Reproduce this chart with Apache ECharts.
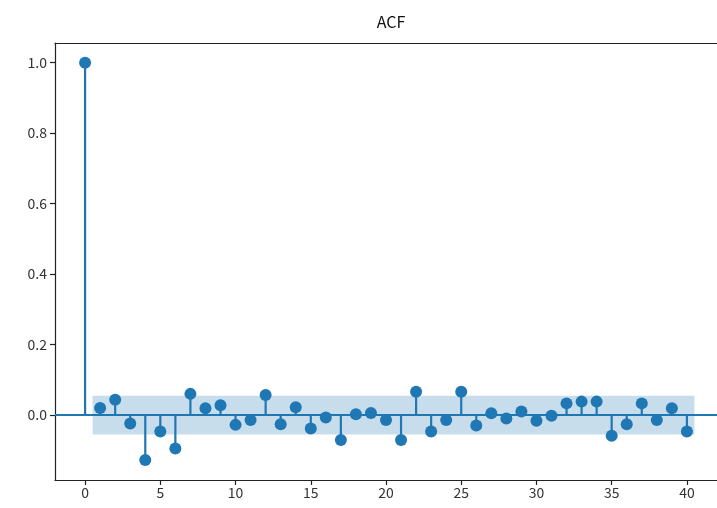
<!DOCTYPE html>
<html>
<head>
<meta charset="utf-8">
<script src="https://cdn.jsdelivr.net/npm/echarts@6/dist/echarts.min.js"></script>
<style>
  html, body { margin: 0; padding: 0; background: #fff; }
  #chart { width: 717px; height: 508px; }
</style>
</head>
<body>
<div id="chart"></div>
<script>
const lags = [0,1,2,3,4,5,6,7,8,9,10,11,12,13,14,15,16,17,18,19,20,21,22,23,24,25,26,27,28,29,30,31,32,33,34,35,36,37,38,39,40];
const acfValues = [1.0, 0.020, 0.043, -0.024, -0.128, -0.047, -0.095, 0.060, 0.019, 0.028,
  -0.028, -0.014, 0.057, -0.026, 0.022, -0.038, -0.007, -0.071, 0.002, 0.006,
  -0.014, -0.071, 0.066, -0.047, -0.014, 0.066, -0.030, 0.005, -0.010, 0.010,
  -0.016, -0.002, 0.033, 0.038, 0.038, -0.059, -0.026, 0.033, -0.014, 0.019, -0.047];
const confBand = [-0.055, 0.055];
const bandLagRange = [0.5, 40.5];
const xTicks = [0, 5, 10, 15, 20, 25, 30, 35, 40];
const yTicks = [0.0, 0.2, 0.4, 0.6, 0.8, 1.0];
const titleText = 'ACF';

const color = '#1f77b4';
const fontFamily = '"Noto Sans CJK SC", "DejaVu Sans", sans-serif';
const points = lags.map((l, i) => [l, acfValues[i]]);
const frameLine = { show: true, onZero: false, lineStyle: { color: '#222', width: 1.2 } };

const chart = echarts.init(document.getElementById('chart'), null, { renderer: 'canvas' });
chart.setOption({
  animation: false,
  backgroundColor: '#fff',
  title: {
    text: titleText,
    left: 386, top: 9, textAlign: 'center',
    textStyle: { fontFamily, fontSize: 16, fontWeight: 'normal', color: '#111' }
  },
  grid: { left: 55, top: 43, right: 0, bottom: 28, show: false },
  xAxis: [{
    type: 'value', min: -2, max: 42, position: 'bottom',
    splitLine: { show: false },
    axisLine: frameLine,
    axisTick: { show: true, length: 5, customValues: xTicks, lineStyle: { color: '#222', width: 1.2 } },
    axisLabel: { customValues: xTicks, fontFamily, fontSize: 14, color: '#333', margin: 6 }
  }, {
    type: 'value', min: -2, max: 42, position: 'top',
    splitLine: { show: false },
    axisLine: frameLine,
    axisTick: { show: false },
    axisLabel: { show: false }
  }],
  yAxis: {
    type: 'value', min: -0.1845, max: 1.056,
    splitLine: { show: false },
    axisLine: frameLine,
    axisTick: { show: true, length: 5, customValues: yTicks, lineStyle: { color: '#222', width: 1.2 } },
    axisLabel: { customValues: yTicks, fontFamily, fontSize: 14, color: '#333', margin: 8,
      formatter: v => v.toFixed(1) }
  },
  series: [
    {
      type: 'custom',
      name: 'stems',
      data: points,
      xAxisIndex: 0,
      z: 2,
      renderItem: (params, api) => {
        const p0 = api.coord([api.value(0), 0]);
        const p1 = api.coord([api.value(0), api.value(1)]);
        return { type: 'line', shape: { x1: p0[0], y1: p0[1], x2: p1[0], y2: p1[1] },
          style: { stroke: color, lineWidth: 2.2 } };
      },
      markArea: {
        silent: true,
        itemStyle: { color: color, opacity: 0.25 },
        data: [[{ xAxis: bandLagRange[0], yAxis: confBand[0] }, { xAxis: bandLagRange[1], yAxis: confBand[1] }]]
      }
    },
    {
      type: 'scatter',
      name: 'acf',
      data: points,
      xAxisIndex: 0,
      symbol: 'circle',
      symbolSize: 12,
      z: 3,
      itemStyle: { color: color, opacity: 1 },
      markLine: {
        silent: true, symbol: 'none', label: { show: false },
        lineStyle: { color: color, width: 2.2, type: 'solid' },
        data: [{ yAxis: 0 }]
      }
    }
  ]
});
</script>
</body>
</html>
